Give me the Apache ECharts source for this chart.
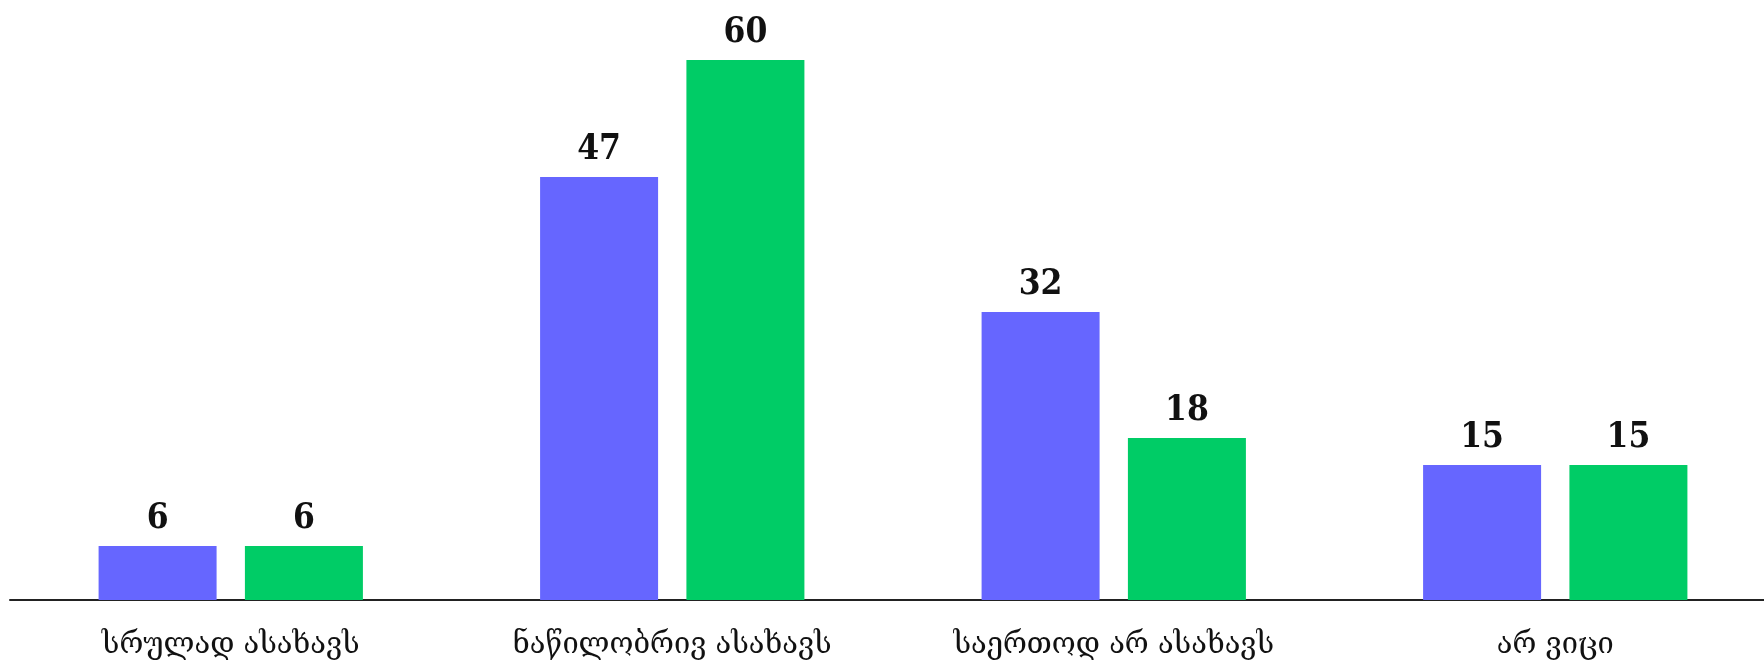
<!DOCTYPE html>
<html>
<head>
<meta charset="utf-8">
<script src="https://cdn.jsdelivr.net/npm/echarts@6/dist/echarts.min.js"></script>
<style>
  html, body { margin: 0; padding: 0; background: #fff; }
  #chart { width: 1764px; height: 660px; }
</style>
</head>
<body>
<div id="chart"></div>
<script>
// კატეგორიები და მნიშვნელობები
var categories = ['სრულად ასახავს', 'ნაწილობრივ ასახავს', 'საერთოდ არ ასახავს', 'არ ვიცი'];
var seriesA = [6, 47, 32, 15];
var seriesB = [6, 60, 18, 15];

var labelStyle = {
  show: true,
  position: 'top',
  distance: 10,
  fontFamily: '"DejaVu Serif Condensed", "DejaVu Serif"',
  fontWeight: 'bold',
  fontSize: 35,
  color: '#111'
};

var myChart = echarts.init(document.getElementById('chart'));
var option = {
  animation: false,
  grid: {
    left: 10,
    width: 1766,
    top: 15,
    bottom: 60,
    outerBoundsMode: 'none'
  },
  xAxis: {
    type: 'category',
    data: categories,
    axisLine: { lineStyle: { color: '#222', width: 2 } },
    axisTick: { show: false },
    axisLabel: {
      margin: 31,
      fontFamily: 'DejaVu Serif',
      fontSize: 29,
      color: '#111'
    }
  },
  yAxis: {
    type: 'value',
    min: 0,
    max: 65,
    show: false,
    splitLine: { show: false }
  },
  series: [
    {
      type: 'bar',
      data: seriesA,
      barWidth: 118,
      barGap: '24%',
      itemStyle: { color: '#6666ff' },
      label: labelStyle
    },
    {
      type: 'bar',
      data: seriesB,
      barWidth: 118,
      itemStyle: { color: '#00cc66' },
      label: labelStyle
    }
  ]
};
myChart.setOption(option);
</script>
</body>
</html>
